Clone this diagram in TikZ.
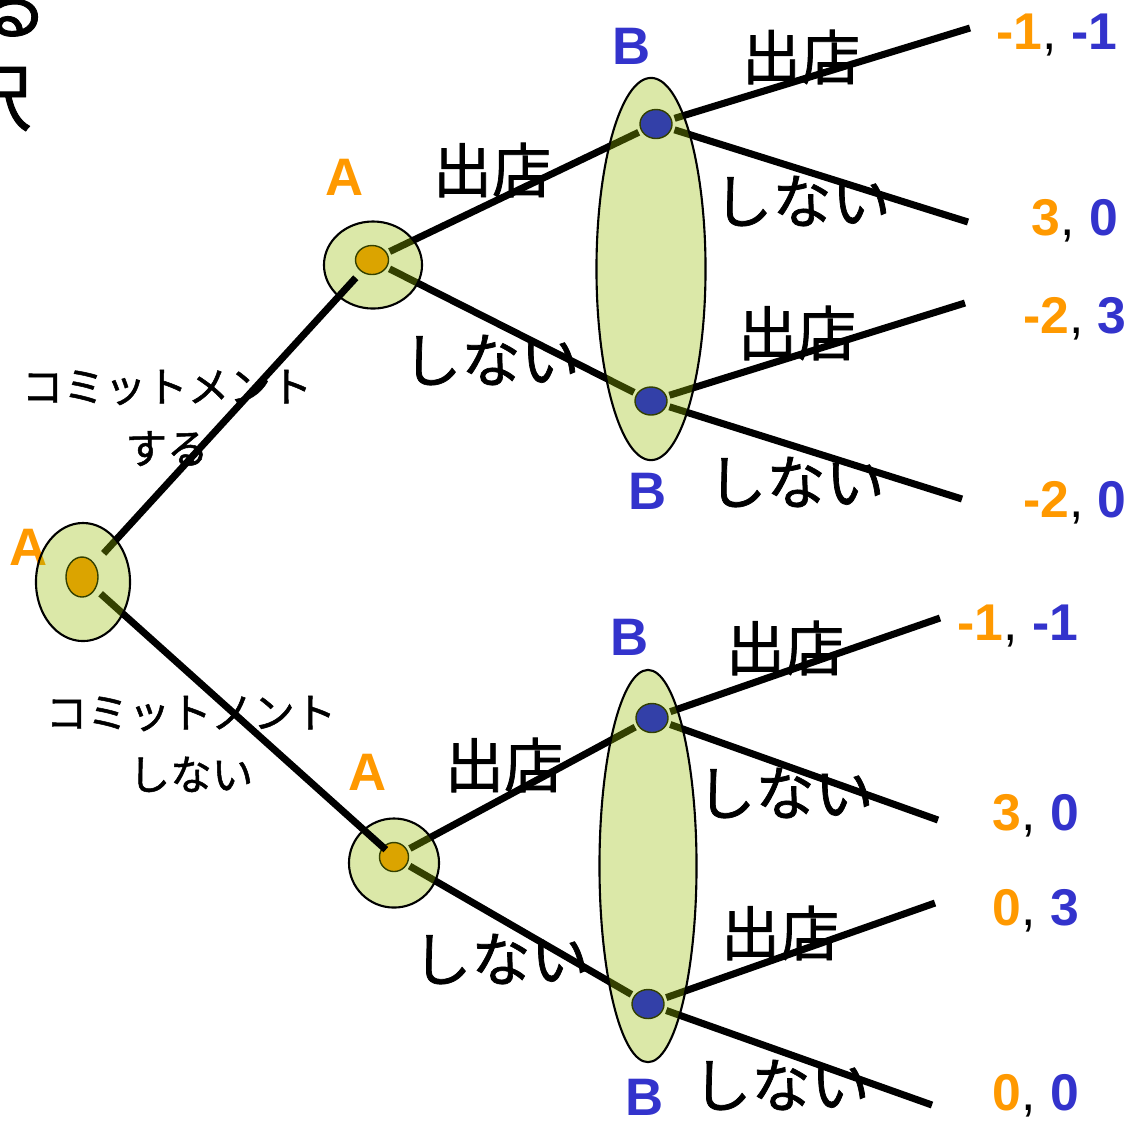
\documentclass[tikz,border=0pt]{standalone}
\usepackage{fontspec}
\usepackage{xcolor}
\usepackage{tikz}
\usetikzlibrary{shapes, positioning, calc}
\newfontfamily\jpfont{Noto Sans CJK JP}[FakeBold=1.2]
\newfontfamily\latfont{Liberation Sans}
\definecolor{playerA}{RGB}{255,153,0}
\definecolor{playerB}{RGB}{51,51,204}
\definecolor{dotB}{RGB}{0,0,255}
\definecolor{infogreen}{RGB}{150,188,0}

\begin{document}
\begin{tikzpicture}[
    x = 0.01cm, y = -0.01cm,
    decA/.style = {
      ellipse, draw, line width = 0.4pt, fill = playerA, inner sep = 0pt,
      outer sep = 1pt, minimum width = 0.32cm, minimum height = 0.29cm
    },
    decB/.style = {
      ellipse, draw, line width = 0.4pt, fill = dotB, inner sep = 0pt,
      outer sep = 1pt, minimum width = 0.32cm, minimum height = 0.29cm
    },
    infoset/.style = {
      ellipse, draw, line width = 0.6pt, fill = infogreen,
      fill opacity = 0.34, inner sep = 0pt
    },
    move/.style = {
      line width = 2pt
    },
    player/.style = {
      font = \latfont\bfseries\fontsize{15}{18}\selectfont, inner sep = 0pt
    },
    action/.style = {
      font = \jpfont\fontsize{16.8}{20}\selectfont, inner sep = 0pt
    },
    commit/.style = {
      font = \jpfont\fontsize{11.8}{17.6}\selectfont, align = center, inner sep = 0pt
    },
    payoff/.style = {
      font = \latfont\bfseries\fontsize{14.7}{18}\selectfont, inner sep = 0pt,
      anchor = base
    },
    cut/.style = {
      font = \jpfont\fontsize{21}{21}\selectfont, inner sep = 0pt, anchor = east
    },
    ]
\useasboundingbox (0,0) rectangle (1134,1126);

% text running off the left edge
\node  [cut]  (cut1)  at  (49,7)  {る};
\node  [cut]  (cut2)  at  (32,97)  {択};

% first move
\node  [commit]  (commit_yes)  at  (167,418)  {コミットメント\\する};
\node  [commit]  (commit_no)  at  (191,744)  {コミットメント\\しない};

% actions
\node  [action]  (act_1)  at  (492,170)  {出店};
\node  [action]  (act_2)  at  (491,360)  {しない};
\node  [action]  (act_3)  at  (504,765)  {出店};
\node  [action]  (act_4)  at  (501,959)  {しない};
\node  [action]  (act_11)  at  (801,57)  {出店};
\node  [action]  (act_12)  at  (802,201)  {しない};
\node  [action]  (act_21)  at  (797,333)  {出店};
\node  [action]  (act_22)  at  (796,482)  {しない};
\node  [action]  (act_31)  at  (785,648)  {出店};
\node  [action]  (act_32)  at  (785,793)  {しない};
\node  [action]  (act_41)  at  (780,933)  {出店};
\node  [action]  (act_42)  at  (781,1085)  {しない};

% players
\node  [player, text = playerA]  (lab_a0)  at  (29,547)  {A};
\node  [player, text = playerA]  (lab_a1)  at  (345,177)  {A};
\node  [player, text = playerA]  (lab_a2)  at  (368,772)  {A};
\node  [player, text = playerB]  (lab_b1)  at  (632,46)  {B};
\node  [player, text = playerB]  (lab_b2)  at  (648,491)  {B};
\node  [player, text = playerB]  (lab_b3)  at  (630,637)  {B};
\node  [player, text = playerB]  (lab_b4)  at  (645,1097)  {B};

% payoffs (A, B)
\node  [payoff]  (pay_1)  at  (1057,49)  {\textcolor{playerA}{-1}{\mdseries,} \textcolor{playerB}{-1}};
\node  [payoff]  (pay_2)  at  (1075,235)  {\textcolor{playerA}{3}{\mdseries,} \textcolor{playerB}{0}};
\node  [payoff]  (pay_3)  at  (1075,333)  {\textcolor{playerA}{-2}{\mdseries,} \textcolor{playerB}{3}};
\node  [payoff]  (pay_4)  at  (1075,517)  {\textcolor{playerA}{-2}{\mdseries,} \textcolor{playerB}{0}};
\node  [payoff]  (pay_5)  at  (1018,640)  {\textcolor{playerA}{-1}{\mdseries,} \textcolor{playerB}{-1}};
\node  [payoff]  (pay_6)  at  (1036,830)  {\textcolor{playerA}{3}{\mdseries,} \textcolor{playerB}{0}};
\node  [payoff]  (pay_7)  at  (1036,925)  {\textcolor{playerA}{0}{\mdseries,} \textcolor{playerB}{3}};
\node  [payoff]  (pay_8)  at  (1036,1110)  {\textcolor{playerA}{0}{\mdseries,} \textcolor{playerB}{0}};

% decision nodes
\node  [decA, minimum height = 0.40cm]  (a0)  at  (82,577)  {};
\node  [decA, minimum width = 0.33cm]  (a1)  at  (372,260)  {};
\node  [decA, minimum width = 0.29cm]  (a2)  at  (394,857)  {};
\node  [decB]  (b11)  at  (656,124)  {};
\node  [decB, minimum height = 0.28cm]  (b12)  at  (651,401)  {};
\node  [decB]  (b21)  at  (652,718)  {};
\node  [decB]  (b22)  at  (648,1004)  {};

\coordinate  (e1)  at  (970,28);
\coordinate  (e2)  at  (968,222);
\coordinate  (e3)  at  (965,303);
\coordinate  (e4)  at  (962,499);
\coordinate  (e5)  at  (940,618);
\coordinate  (e6)  at  (938,820);
\coordinate  (e7)  at  (935,903);
\coordinate  (e8)  at  (932,1105);

\draw  [move]  (a1)  --  (b11);
\draw  [move]  (a1)  --  (b12);
\draw  [move]  (a2)  --  (b21);
\draw  [move]  (a2)  --  (b22);
\draw  [move]  (b11)  --  (e1);
\draw  [move]  (b11)  --  (e2);
\draw  [move]  (b12)  --  (e3);
\draw  [move]  (b12)  --  (e4);
\draw  [move]  (b21)  --  (e5);
\draw  [move]  (b21)  --  (e6);
\draw  [move]  (b22)  --  (e7);
\draw  [move]  (b22)  --  (e8);

% information sets
\node  [infoset, minimum width = 1.09cm, minimum height = 3.82cm]  (set_b1)  at  (651,269)  {};
\node  [infoset, minimum width = 0.97cm, minimum height = 3.92cm]  (set_b2)  at  (648,866)  {};
\node  [infoset, minimum width = 0.98cm, minimum height = 0.87cm]  (set_a1)  at  (373,265)  {};
\node  [infoset, minimum width = 0.90cm, minimum height = 0.89cm]  (set_a2)  at  (394,863)  {};

\draw  [move, shorten <= 0.32cm, shorten >= 0.24cm]  (a0.center)  --  (a1.center);
\draw  [move, shorten <= 0.25cm, shorten >= 0.11cm]  (a0.center)  --  (a2.center);

\node  [infoset, minimum width = 0.94cm, minimum height = 1.18cm]  (set_a0)  at  (83,582)  {};
\end{tikzpicture}
\end{document}
